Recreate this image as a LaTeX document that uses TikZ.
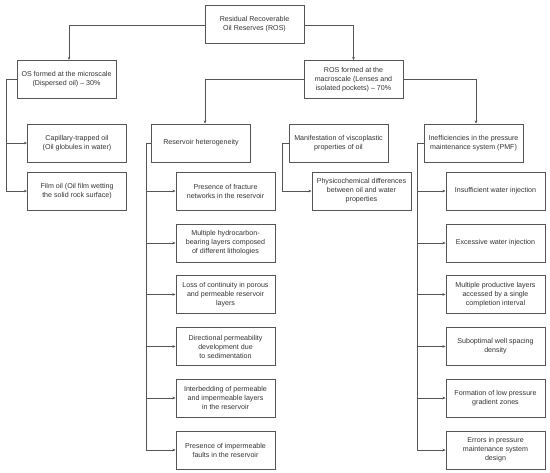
\documentclass[tikz,border=0pt]{standalone}
\usepackage{fontspec}
\setmainfont{Liberation Sans}
\usetikzlibrary{arrows.meta}
\definecolor{linecol}{HTML}{555555}
\definecolor{txtcol}{HTML}{333333}
\tikzset{
  box/.style={draw=linecol, line width=0.8pt, fill=white, text=txtcol,
    minimum width=99pt, minimum height=38pt, inner sep=1pt,
    align=center, font=\fontsize{7.1}{9}\selectfont, anchor=center},
  conn/.style={draw=linecol, line width=0.7pt,
    -{Stealth[length=3.2pt,width=2.6pt]}},
  plainconn/.style={draw=linecol, line width=0.7pt}
}
\begin{document}
\begin{tikzpicture}[x=1pt,y=-1pt]
\useasboundingbox (0,0) rectangle (550,473);
\fill[white] (0,0) rectangle (550,473);

% level 0-1
\node[box] (root) at (254.5,24) {Residual Recoverable\\Oil Reserves (ROS)};
\node[box] (os) at (66.5,79.5) {OS formed at the microscale\\(Dispersed oil) -- 30\%};
\node[box] (ros) at (353.5,79.5) {ROS formed at the\\macroscale (Lenses and\\isolated pockets) -- 70\%};

% level 2
\node[box] (cap) at (77,143) {Capillary-trapped oil\\(Oil globules in water)};
\node[box] (film) at (77,191) {Film oil (Oil film wetting\\the solid rock surface)};
\node[box] (rh) at (201,143) {Reservoir heterogeneity};
\node[box] (man) at (338.5,143) {Manifestation of viscoplastic\\properties of oil};
\node[box] (ine) at (473.5,143) {Inefficiencies in the pressure\\maintenance system (PMF)};
\node[box] (phy) at (361.5,191) {Physicochemical differences\\between oil and water\\properties};

% reservoir heterogeneity children
\node[box] (r1) at (225.5,191) {Presence of fracture\\networks in the reservoir};
\node[box] (r2) at (225.5,243) {Multiple hydrocarbon-\\bearing layers composed\\of different lithologies};
\node[box] (r3) at (225.5,294.5) {Loss of continuity in porous\\and permeable reservoir\\layers};
\node[box] (r4) at (225.5,346.5) {Directional permeability\\development due\\to sedimentation};
\node[box] (r5) at (225.5,398) {Interbedding of permeable\\and impermeable layers\\in the reservoir};
\node[box] (r6) at (225.5,450) {Presence of impermeable\\faults in the reservoir};

% PMF children
\node[box] (p1) at (495.5,191) {Insufficient water injection};
\node[box] (p2) at (495.5,243) {Excessive water injection};
\node[box] (p3) at (495.5,294.5) {Multiple productive layers\\accessed by a single\\completion interval};
\node[box] (p4) at (495.5,346.5) {Suboptimal well spacing\\density};
\node[box] (p5) at (495.5,398) {Formation of low pressure\\gradient zones};
\node[box] (p6) at (495.5,450) {Errors in pressure\\maintenance system\\design};

% top connectors
\draw[conn] ([yshift=-1]root.west) -| ([xshift=2.5]os.north);
\draw[conn] ([yshift=-1]root.east) -| (ros.north);
\draw[conn] (ros.west) -| ([xshift=4]rh.north);
\draw[conn] (ros.east) -| ([xshift=2.5]ine.north);

% microscale branch
\coordinate (osb) at (6,79.5);
\draw[plainconn] (os.west) -- (osb);
\draw[conn] (osb) |- (cap.west);
\draw[conn] (osb) |- (film.west);

% reservoir heterogeneity branch
\coordinate (rhb) at (146,143);
\draw[plainconn] (rh.west) -- (rhb);
\foreach \n in {r1,r2,r3,r4,r5,r6} { \draw[conn] (rhb) |- (\n.west); }

% viscoplastic branch
\coordinate (manb) at (282,143);
\draw[plainconn] (man.west) -- (manb);
\draw[conn] (manb) |- (phy.west);

% PMF branch
\coordinate (ineb) at (417,143);
\draw[plainconn] (ine.west) -- (ineb);
\foreach \n in {p1,p2,p3,p4,p5,p6} { \draw[conn] (ineb) |- (\n.west); }
\end{tikzpicture}
\end{document}
